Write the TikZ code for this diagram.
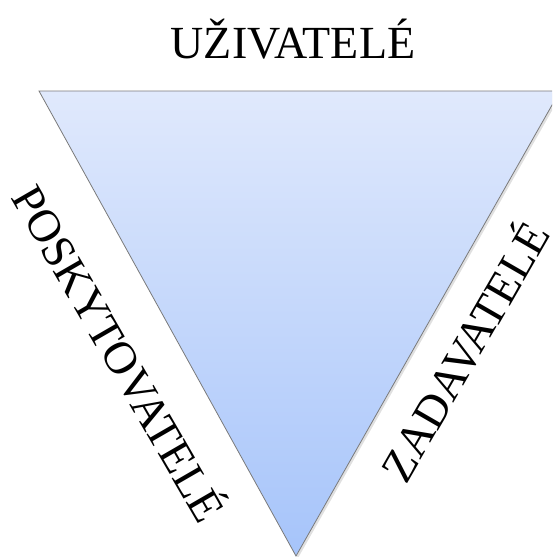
\documentclass[tikz,border=0pt]{standalone}
\usepackage{fontspec}
\setmainfont{Liberation Serif}
\definecolor{topblue}{HTML}{E0E9FC}
\definecolor{botblue}{HTML}{A6C4FA}
\definecolor{edgegray}{HTML}{7A7A7A}
\tikzset{
  lbl/.style={font=\fontsize{46}{55}\selectfont, inner sep=0pt, anchor=center},
  tri/.style={draw=edgegray, line width=0.8pt, top color=topblue, bottom color=botblue}
}
\begin{document}
\begin{tikzpicture}[x=1pt,y=-1pt]
\useasboundingbox (0,0) rectangle (552,557);
\clip (0,0) rectangle (552,557);
\coordinate (tl) at (39,91);
\coordinate (tr) at (560,91);
\coordinate (ap) at (296,556);
\fill[black,opacity=0.12] ([shift={(2,2)}]tl) -- ([shift={(2,2)}]tr) -- ([shift={(2,2)}]ap) -- cycle;
\path[tri] (tl) -- (tr) -- (ap) -- cycle;
\node[lbl, anchor=base] (u) at (293,58) {UŽIVATELÉ};
\node[lbl, rotate=-60] (p) at (122,352) {POSKYTOVATELÉ};
\node[lbl, rotate=60] (z) at (462,350) {ZADAVATELÉ};
\end{tikzpicture}
\end{document}
